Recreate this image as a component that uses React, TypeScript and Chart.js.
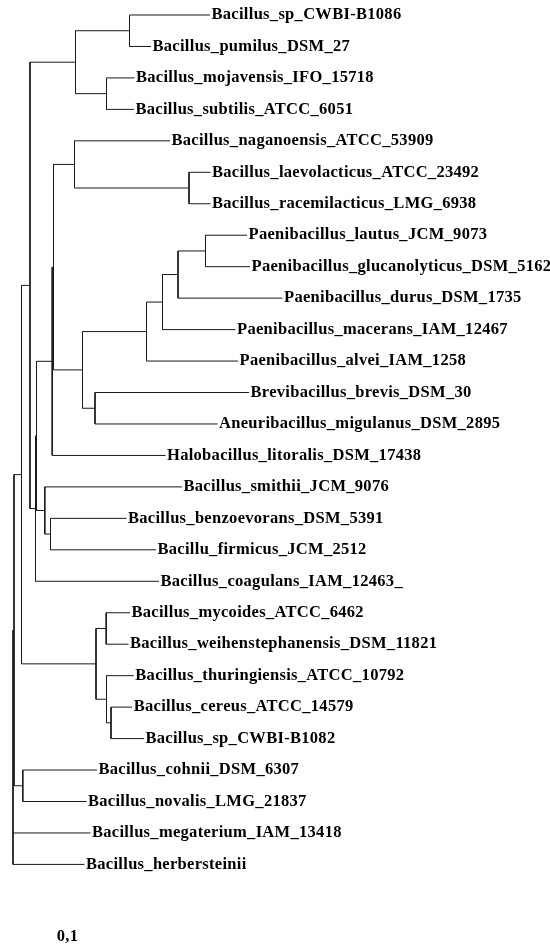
import React, { useEffect, useRef } from "react";
import { Chart, registerables } from "chart.js";

Chart.register(...registerables);

// Leaves, top to bottom
const leafNames = [
  "Bacillus_sp_CWBI-B1086",
  "Bacillus_pumilus_DSM_27",
  "Bacillus_mojavensis_IFO_15718",
  "Bacillus_subtilis_ATCC_6051",
  "Bacillus_naganoensis_ATCC_53909",
  "Bacillus_laevolacticus_ATCC_23492",
  "Bacillus_racemilacticus_LMG_6938",
  "Paenibacillus_lautus_JCM_9073",
  "Paenibacillus_glucanolyticus_DSM_5162",
  "Paenibacillus_durus_DSM_1735",
  "Paenibacillus_macerans_IAM_12467",
  "Paenibacillus_alvei_IAM_1258",
  "Brevibacillus_brevis_DSM_30",
  "Aneuribacillus_migulanus_DSM_2895",
  "Halobacillus_litoralis_DSM_17438",
  "Bacillus_smithii_JCM_9076",
  "Bacillus_benzoevorans_DSM_5391",
  "Bacillu_firmicus_JCM_2512",
  "Bacillus_coagulans_IAM_12463_",
  "Bacillus_mycoides_ATCC_6462",
  "Bacillus_weihenstephanensis_DSM_11821",
  "Bacillus_thuringiensis_ATCC_10792",
  "Bacillus_cereus_ATCC_14579",
  "Bacillus_sp_CWBI-B1082",
  "Bacillus_cohnii_DSM_6307",
  "Bacillus_novalis_LMG_21837",
  "Bacillus_megaterium_IAM_13418",
  "Bacillus_herbersteinii",
];

// Distance of each leaf from the root
const leafDepths = [
  0.197, 0.138, 0.1215, 0.121, 0.157, 0.1975, 0.1975, 0.234, 0.237, 0.2695,
  0.2225, 0.225, 0.236, 0.2045, 0.1525, 0.169, 0.1135, 0.143, 0.146, 0.117,
  0.1155, 0.1208, 0.1192, 0.131, 0.084, 0.0735, 0.0775, 0.0715,
];

// Internal nodes: name, distance from root, children (leaf index or node name)
const nodeNames = [
  "root", "V1", "Q", "S", "C", "A", "B", "R2", "R1", "P2", "P1", "E", "D",
  "K", "I", "H", "G", "F", "J", "N", "M", "T", "W", "X", "Y", "U",
];
const nodeDepths = [
  0, 0.001, 0.0085, 0.017, 0.0625, 0.1165, 0.0935, 0.0225, 0.0235, 0.0392,
  0.0405, 0.0615, 0.176, 0.0695, 0.1335, 0.1495, 0.165, 0.1925, 0.082, 0.0318,
  0.0375, 0.083, 0.0932, 0.0935, 0.098, 0.0098,
];
const nodeChildren: (number | string)[][] = [
  ["V1", 26, 27],
  ["Q", "U"],
  ["S", "T"],
  ["C", "R2"],
  ["A", "B"],
  [0, 1],
  [2, 3],
  ["R1", 18],
  ["P2", "N"],
  ["P1", 14],
  ["E", "K"],
  [4, "D"],
  [5, 6],
  ["I", "J"],
  ["H", 11],
  ["G", 10],
  ["F", 9],
  [7, 8],
  [12, 13],
  [15, "M"],
  [16, 17],
  ["W", "X"],
  [19, 20],
  [21, "Y"],
  [22, 23],
  [24, 25],
];

const scaleLabel = "0,1";
const scaleLabelPos = { x: 0.0545, y: 29.31 };

type Pt = { x: number; y: number };

function buildSegments(): Pt[] {
  const yCache: Record<string, number> = {};
  const idx = (n: string) => nodeNames.indexOf(n);
  const childY = (c: number | string): number =>
    typeof c === "number" ? c : nodeY(c);
  const childX = (c: number | string): number =>
    typeof c === "number" ? leafDepths[c] : nodeDepths[idx(c)];
  function nodeY(n: string): number {
    if (yCache[n] !== undefined) return yCache[n];
    const ch = nodeChildren[idx(n)];
    const v = (childY(ch[0]) + childY(ch[ch.length - 1])) / 2;
    yCache[n] = v;
    return v;
  }
  const pts: Pt[] = [];
  const gap = { x: NaN, y: NaN };
  nodeNames.forEach((n, i) => {
    const ch = nodeChildren[i];
    const x0 = nodeDepths[i];
    pts.push({ x: x0, y: childY(ch[0]) });
    pts.push({ x: x0, y: childY(ch[ch.length - 1]) });
    pts.push(gap);
    ch.forEach((c) => {
      pts.push({ x: x0, y: childY(c) });
      pts.push({ x: childX(c), y: childY(c) });
      pts.push(gap);
    });
  });
  return pts;
}

const FONT = 'bold 16.5px "Liberation Serif", "Times New Roman", serif';

const labelPlugin = {
  id: "leafLabels",
  afterDatasetsDraw(chart: any) {
    const { ctx, scales } = chart;
    const xs = scales.x;
    const ys = scales.y;
    ctx.save();
    ctx.font = FONT;
    try {
      (ctx as any).letterSpacing = "0.3px";
    } catch (e) {}
    ctx.fillStyle = "#000";
    ctx.textBaseline = "middle";
    ctx.textAlign = "left";
    leafNames.forEach((name, i) => {
      const px = xs.getPixelForValue(leafDepths[i]) + 1.5;
      const py = ys.getPixelForValue(i);
      ctx.fillText(name, px, py);
    });
    ctx.textAlign = "center";
    ctx.fillText(
      scaleLabel,
      xs.getPixelForValue(scaleLabelPos.x),
      ys.getPixelForValue(scaleLabelPos.y)
    );
    ctx.restore();
  },
};

export default function App() {
  const ref = useRef<HTMLCanvasElement | null>(null);
  useEffect(() => {
    if (!ref.current) return;
    const chart = new Chart(ref.current, {
      type: "scatter",
      data: {
        datasets: [
          {
            data: buildSegments(),
            showLine: true,
            spanGaps: false,
            borderColor: "#1a1a1a",
            borderWidth: 1,
            pointRadius: 0,
            pointHoverRadius: 0,
            tension: 0,
          } as any,
        ],
      },
      options: {
        animation: false,
        responsive: false,
        devicePixelRatio: 1,
        layout: { padding: 0 },
        events: [],
        plugins: {
          legend: { display: false },
          tooltip: { enabled: false },
        },
        scales: {
          x: { type: "linear", display: false, min: -0.013, max: 0.537 },
          y: {
            type: "linear",
            display: false,
            reverse: true,
            min: -15 / 31.46,
            max: (946 - 15) / 31.46,
          },
        },
      },
      plugins: [labelPlugin],
    });
    return () => chart.destroy();
  }, []);
  return (
    <div
      style={{
        position: "absolute",
        left: 0,
        top: 0,
        width: 550,
        height: 946,
        background: "#fff",
      }}
    >
      <canvas ref={ref} width={550} height={946} style={{ display: "block" }} />
    </div>
  );
}
